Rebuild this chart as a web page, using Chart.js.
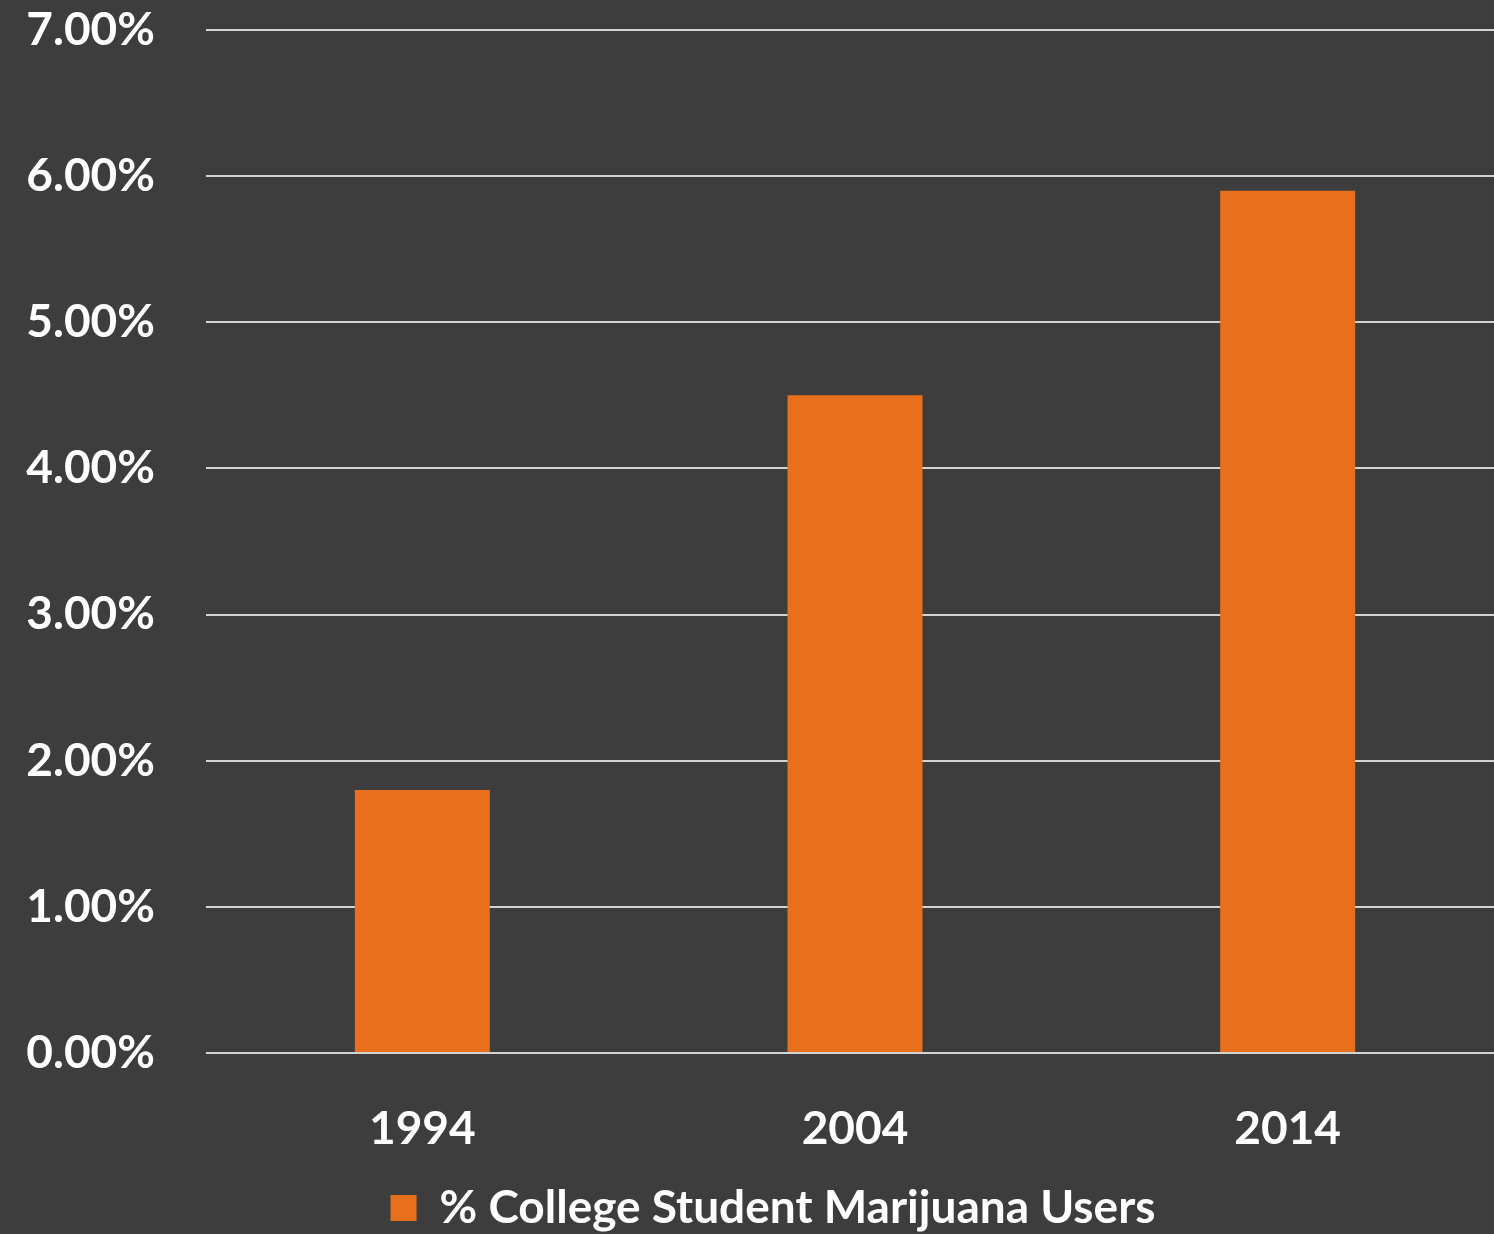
<!DOCTYPE html>
<html>
<head>
<meta charset="utf-8">
<title>College Student Marijuana Users</title>
<script src="https://cdn.jsdelivr.net/npm/chart.js@4/dist/chart.umd.min.js"></script>
<style>
  html, body { margin: 0; padding: 0; background: #3d3d3d; overflow: hidden; }
  #wrap { width: 1504px; height: 1234px; }
</style>
</head>
<body>
<div id="wrap"><canvas id="chart"></canvas></div>
<script>
// data
const years = ['1994', '2004', '2014'];
const userPct = [1.8, 4.5, 5.9];
const seriesName = '% College Student Marijuana Users';

const FONT = 'Lato, "Open Sans", sans-serif';
const ORANGE = '#e8701d';

Chart.defaults.color = '#ffffff';
Chart.defaults.font.family = FONT;
Chart.defaults.font.weight = 'bold';

// nudge the bottom legend right of the canvas centre and a little lower
const legendShift = {
	id: 'legendShift',
	afterLayout(chart) {
		chart.legend.left += 42;
		chart.legend.top += 7;
	}
};

new Chart(document.getElementById('chart'), {
	type: 'bar',
	data: {
		labels: years,
		datasets: [{
			label: seriesName,
			data: userPct,
			backgroundColor: ORANGE,
			borderWidth: 0,
			categoryPercentage: 1,
			barPercentage: 0.312
		}]
	},
	plugins: [legendShift],
	options: {
		responsive: true,
		maintainAspectRatio: false,
		animation: false,
		layout: { padding: { left: 0, top: 30, right: 0, bottom: 0 } },
		plugins: {
			tooltip: { enabled: false },
			legend: {
				position: 'bottom',
				labels: {
					boxWidth: 26,
					boxHeight: 26,
					padding: 0,
					font: { size: 46, weight: 'bold' },
					color: '#ffffff'
				}
			}
		},
		scales: {
			x: {
				// fixed band under the plot for the year labels
				afterFit: s => { s.height = 125; },
				grid: { display: false, drawTicks: false },
				border: { display: false },
				ticks: { font: { size: 46, weight: 'bold' }, padding: 49 }
			},
			y: {
				min: 0,
				max: 7,
				afterFit: s => { s.width = 206; s.paddingTop = 0; s.paddingBottom = 0; },
				border: { display: false },
				grid: { color: '#d4d4d4', lineWidth: 2, drawTicks: false },
				ticks: {
					stepSize: 1,
					padding: 51,
					font: { size: 46, weight: 'bold' },
					callback: v => v.toFixed(2) + '%'
				}
			}
		}
	}
});
</script>
</body>
</html>
